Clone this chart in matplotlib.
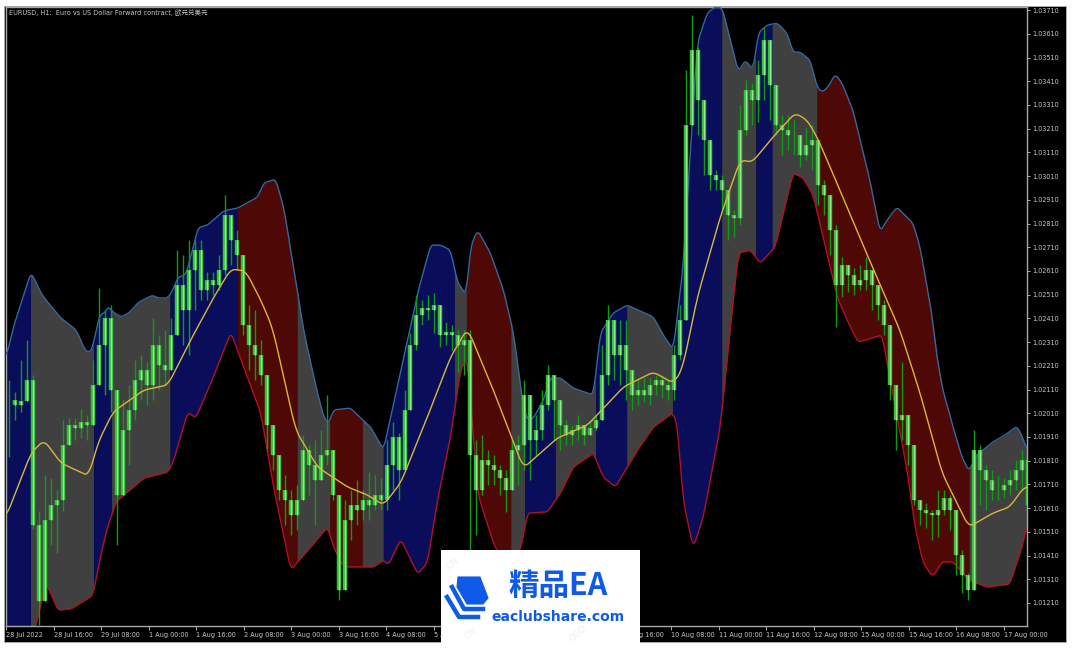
"""EURUSD H1 chart with a coloured band indicator, MT5 style."""
import matplotlib
matplotlib.use("Agg")
import matplotlib.pyplot as plt
from matplotlib.patches import Polygon, Rectangle
import numpy as np

plt.rcParams["font.family"] = ["DejaVu Sans", "Noto Sans CJK SC"]

POINT = 1e-5
BAR_STEP = 2.018  # candles below are read every ~2 bars

# band readings: hours since chart start, price in points
upper_h = [0.3, 2.4, 8.4, 11.8, 13.5, 18.5, 22.9, 24.2, 26.2, 27.9, 29.3, 30.3, 32, 33, 34.3, 36, 38.7, 41.4,
           44.7, 49.4, 51.1, 54.5, 56.2, 57.9, 60.5, 62.2, 64.6, 67.9, 73.3, 78, 84.8, 86.8, 90.8, 93.5, 95.9,
           98.2, 100.2, 102.6, 104.9, 107, 108.6, 110.3, 116, 119.4, 122.8, 127.1, 138.9, 143, 146.3, 149.7,
           152, 155, 156.4, 158.8, 163.1, 167.5, 170.9, 174.2, 175.6, 177.6, 181, 183.3, 186.7, 191, 197.8,
           200.1, 204.5, 209.2, 218, 221.3, 224.7, 228, 231.4, 232.8, 236.1, 238.8, 241.2, 243.9, 246.6, 248.9,
           251.6, 253.3, 256.3, 259.7, 263, 265, 267.4, 270.8, 273.1, 274.8, 276.8, 279.2, 281.5, 285.2, 287.6,
           290.9, 294.3, 296.7, 300, 302, 305.4, 307.8, 312.1, 312.8, 315.2, 318.9, 321.9, 324.2, 326.9, 332.3,
           336.4, 340.4, 342.4, 343.8]
upper_p = [102256, 102369, 102605, 102517, 102487, 102411, 102369, 102348, 102285, 102264, 102289, 102361, 102437,
           102424, 102462, 102437, 102416, 102433, 102479, 102508, 102496, 102496, 102530, 102584, 102593, 102669,
           102791, 102804, 102863, 102875, 102922, 102981, 102997, 102879, 102698, 102517, 102361, 102222, 102095,
           101994, 101965, 102024, 102032, 101990, 101952, 101855, 102530, 102719, 102719, 102698, 102563, 102508,
           102711, 102782, 102686, 102530, 102348, 102036, 101981, 101990, 102066, 102159, 102159, 102116, 102087,
           102348, 102433, 102466, 102416, 102340, 102277, 102626, 103301, 103571, 103697, 103723, 103718, 103584,
           103449, 103499, 103457, 103613, 103647, 103655, 103613, 103533, 103533, 103499, 103385, 103364, 103385,
           103440, 103402, 103288, 103162, 102993, 102774, 102825, 102879, 102854, 102812, 102711, 102403, 102306,
           102121, 101952, 101825, 101766, 101834, 101889, 101918, 101956, 101906, 101855]

lower_h = [0, 8.1, 10.1, 11.8, 13.5, 17.5, 21.9, 26.2, 29.3, 30.9, 33.6, 37, 46.4, 54.5, 56.2, 61.2, 63.9, 69, 75.7,
           85.8, 90.1, 95.9, 98.2, 102.6, 108.3, 110.3, 113.7, 123.8, 127.1, 128.8, 132.9, 138.6, 141.9, 145.3,
           149.7, 153, 155.4, 158.8, 164.1, 168.9, 173.2, 175.6, 182.3, 186.7, 191, 197.8, 201.1, 205.2, 212.6,
           218, 224.4, 226, 228, 231.4, 234.8, 240.5, 243.9, 246.6, 250.6, 254, 259, 265, 268.4, 271.8, 279.9,
           283.2, 286.9, 295, 303.4, 306.1, 308.8, 312.1, 315.2, 318.9, 324.2, 330.3, 338, 342.1, 343.8]
lower_p = [100900, 101050, 101117, 101210, 101294, 101180, 101185, 101218, 101244, 101349, 101505, 101636, 101737,
           101762, 101800, 102015, 101990, 102137, 102352, 102011, 101699, 101349, 101383, 101446, 101530, 101446,
           101362, 101362, 101391, 101370, 101480, 101332, 101379, 101644, 101910, 102192, 102247, 101674, 101463,
           101349, 101433, 101589, 101594, 101674, 101783, 101842, 101741, 101699, 101855, 101952, 102011, 101969,
           101644, 101442, 101572, 101952, 102369, 102686, 102698, 102643, 102711, 103023, 103002, 102930, 102500,
           102403, 102310, 102340, 101771, 101530, 101379, 101320, 101383, 101383, 101307, 101277, 101290, 101446,
           101539]

mid_h = [0, 8.4, 12.8, 18.5, 27.9, 30.9, 36, 46.4, 54.5, 62.2, 70, 75.7, 80.7, 85.8, 89.8, 97.5, 104.9, 115, 121.8,
         127.1, 132.9, 141.9, 149.7, 155.4, 164.1, 174.2, 185.7, 195.8, 207.9, 218, 224.7, 227.7, 232.8, 240.5,
         247.2, 251.3, 258.3, 265.7, 269.8, 273.1, 277.5, 289.3, 301, 307.8, 315.2, 324.2, 332.3, 338, 342.8]
mid_p = [101572, 101842, 101897, 101800, 101745, 101884, 102015, 102108, 102129, 102319, 102500, 102618, 102610,
         102487, 102369, 101939, 101783, 101699, 101665, 101623, 101716, 101994, 102247, 102369, 102108, 101779,
         101906, 101960, 102121, 102184, 102137, 102192, 102500, 102837, 103078, 103069, 103175, 103276, 103246,
         103175, 103048, 102698, 102361, 102095, 101758, 101530, 101589, 101615, 101699]

# where the band changes state
region_edges = [0, 8.1, 29.3, 35.3, 55.2, 77.7, 97.9, 109, 120, 127, 151, 155, 170, 174.6, 185, 198.5, 209, 224.4,
                241, 252.3, 258, 273, 324.2, 343.8]
region_state = ["up", "flat", "up", "flat", "up", "down", "flat", "down", "flat", "up", "flat", "down", "flat",
                "up", "flat", "up", "flat", "up", "flat", "up", "flat", "down", "flat"]

candle_high = [102150, 102100, 102235, 102320, 102170, 101600, 101750, 101737, 101685, 101980, 101990, 101990,
               102030, 102002, 102235, 102538, 102445, 102466, 102087, 102066, 102130, 102235, 102255, 102226,
               102411, 102340, 102360, 102411, 102698, 102677, 102740, 102740, 102740, 102605, 102605, 102677,
               102930, 102803, 102782, 102677, 102466, 102445, 102318, 102130, 101940, 101792, 101750, 101686,
               101707, 101918, 101876, 101897, 101940, 102087, 101855, 101657, 101644, 101686, 101728, 101686,
               101762, 101750, 101737, 101897, 101973, 101926, 102108, 102348, 102508, 102487, 102508, 102517,
               102445, 102394, 102382, 102361, 102361, 102361, 101897, 101918, 101855, 101834, 101792, 101770,
               101897, 101918, 102150, 101981, 102002, 102108, 102213, 102150, 102045, 101981, 101960, 102002,
               101960, 101981, 102002, 102297, 102466, 102297, 102403, 102403, 102171, 102150, 102158, 102158,
               102171, 102171, 102150, 102297, 102466, 103457, 103689, 103554, 103309, 103056, 103035, 103014,
               102888, 102867, 103309, 103415, 103402, 103499, 103638, 103457, 103330, 103267, 103267, 103246,
               103183, 103212, 103225, 103162, 102993, 102930, 102803, 102668, 102635, 102622, 102635, 102668,
               102614, 102550, 102487, 102361, 102087, 102226, 102002, 101855, 101644, 101631, 101602, 101686,
               101686, 101665, 101602, 101433, 101336, 101939, 101876, 101792, 101770, 101749, 101737, 101770,
               101813, 101855, 101707]
candle_low = [101825, 101980, 102015, 102065, 101520, 101117, 101307, 101455, 101420, 101600, 101890, 101897,
              101905, 101897, 101982, 102200, 102087, 102015, 101455, 101770, 101790, 101982, 102066, 102045,
              102066, 102108, 102130, 102234, 102340, 102297, 102255, 102445, 102487, 102487, 102508, 102530,
              102593, 102635, 102614, 102340, 102192, 102150, 102130, 101855, 101770, 101644, 101539, 101497,
              101518, 101686, 101665, 101539, 101728, 101792, 101644, 101222, 101391, 101475, 101539, 101560,
              101560, 101602, 101602, 101602, 101686, 101644, 101792, 102045, 102276, 102382, 102403, 102348,
              102289, 102297, 102276, 102184, 102171, 101433, 101496, 101665, 101707, 101707, 101665, 101593,
              101728, 101707, 101770, 101728, 101834, 101897, 102024, 101897, 101855, 101876, 101876, 101897,
              101876, 101918, 101939, 101981, 102129, 102150, 102129, 102066, 102024, 102045, 102057, 102045,
              102087, 102074, 102066, 102066, 102234, 102403, 103225, 103183, 103014, 102951, 102951, 102867,
              102740, 102753, 102803, 103183, 103225, 103238, 103330, 103246, 103183, 103098, 103120, 103098,
              103048, 103077, 103035, 102888, 102845, 102677, 102373, 102500, 102521, 102508, 102530, 102530,
              102445, 102403, 102340, 102066, 101855, 101897, 101792, 101623, 101539, 101526, 101475, 101488,
              101581, 101518, 101328, 101252, 101222, 101307, 101623, 101602, 101644, 101644, 101652, 101665,
              101686, 101686, 101488]
candle_close = [102065, 102045, 102060, 102150, 101540, 101220, 101560, 101625, 101645, 101875, 101960, 101947,
                101973, 101960, 102130, 102297, 102411, 102108, 101665, 101940, 102024, 102150, 102192, 102130,
                102297, 102213, 102192, 102340, 102550, 102445, 102614, 102698, 102530, 102572, 102550, 102614,
                102845, 102740, 102677, 102382, 102297, 102255, 102171, 101960, 101834, 101686, 101644, 101581,
                101644, 101855, 101792, 101728, 101834, 101855, 101665, 101265, 101560, 101623, 101602, 101644,
                101623, 101665, 101644, 101792, 101910, 101770, 102024, 102297, 102424, 102453, 102445, 102466,
                102340, 102352, 102340, 102297, 102318, 101834, 101686, 101813, 101792, 101770, 101737, 101686,
                101855, 101876, 102087, 101897, 101939, 102045, 102171, 102066, 101960, 101918, 101939, 101960,
                101918, 101948, 101981, 102171, 102403, 102255, 102297, 102192, 102087, 102108, 102087, 102129,
                102150, 102129, 102108, 102255, 102403, 103225, 103541, 103330, 103162, 103014, 102993, 102951,
                102845, 102833, 103204, 103373, 103330, 103436, 103583, 103394, 103225, 103204, 103183, 103183,
                103098, 103141, 103162, 102972, 102930, 102782, 102550, 102635, 102593, 102550, 102572, 102614,
                102550, 102466, 102382, 102129, 101981, 102002, 101876, 101644, 101602, 101589, 101581, 101602,
                101652, 101602, 101412, 101328, 101265, 101855, 101770, 101728, 101686, 101686, 101707, 101728,
                101770, 101813, 101623]

tick_hours = list(range(0, 340, 16))
tick_labels = ["28 Jul 2022", "28 Jul 16:00", "29 Jul 08:00", "1 Aug 00:00", "1 Aug 16:00", "2 Aug 08:00",
               "3 Aug 00:00", "3 Aug 16:00", "4 Aug 08:00", "5 Aug 00:00", "5 Aug 16:00", "8 Aug 08:00",
               "9 Aug 00:00", "9 Aug 16:00", "10 Aug 08:00", "11 Aug 00:00", "11 Aug 16:00", "12 Aug 08:00",
               "15 Aug 00:00", "15 Aug 16:00", "16 Aug 08:00", "17 Aug 00:00"]
price_ticks = [1.01210, 1.01310, 1.01410, 1.01510, 1.01610, 1.01710, 1.01810, 1.01910, 1.02010, 1.02110, 1.02210,
               1.02310, 1.02410, 1.02510, 1.02610, 1.02710, 1.02810, 1.02910, 1.03010, 1.03110, 1.03210, 1.03310,
               1.03410, 1.03510, 1.03610, 1.03710]

STATE_COLORS = {"up": "#0a0e5a", "flat": "#404040", "down": "#4e0806"}
W, H = 1080, 655
grid = np.arange(0, 344, 0.25)


def rounded(hours, points, span):
    """Take the corners off the read polyline; span is in grid steps."""
    y = np.interp(grid, hours, np.array(points) * POINT)
    kernel = np.ones(span) / span
    return np.convolve(np.pad(y, span, mode="edge"), kernel, mode="same")[span:-span]


fig = plt.figure(figsize=(W / 100, H / 100), dpi=100, facecolor="white")

# black terminal background
bg = fig.add_axes([0, 0, 1, 1], zorder=0)
bg.set_xlim(0, W)
bg.set_ylim(H, 0)
bg.axis("off")
bg.add_patch(Rectangle((4, 6), 1062, 636, fc="black", ec="#b0b0b0", lw=0.6))

ax = fig.add_axes([6 / W, 1 - 626 / H, 1021 / W, 619 / H], zorder=1)
ax.set_facecolor("black")
ax.set_xlim(0.34, 343.8)
ax.set_ylim(1.01113, 1.03723)

top = rounded(upper_h, upper_p, 7)
bot = rounded(lower_h, lower_p, 7)
mid = rounded(mid_h, mid_p, 13)

# band fill, one colour per state
for start, end, state in zip(region_edges[:-1], region_edges[1:], region_state):
    mask = (grid >= start) & (grid <= end + 0.25)
    ax.fill_between(grid[mask], bot[mask], top[mask], color=STATE_COLORS[state], lw=0)

ax.plot(grid, top, color="#34689f", lw=1.0, zorder=3)
ax.plot(grid, bot, color="#b01222", lw=1.0, zorder=3)

# candles
high = np.array(candle_high) * POINT
low = np.array(candle_low) * POINT
close = np.array(candle_close) * POINT
open_ = np.r_[close[0], close[:-1]]
hours = 1.0 + BAR_STEP * np.arange(len(close))
ax.vlines(hours, low, high, color="#119a14", lw=1.0, zorder=4)
ax.vlines(hours, np.minimum(open_, close), np.maximum(open_, close), color="#38c03c", lw=3.2, zorder=5)
ax.vlines(hours, np.minimum(open_, close), np.maximum(open_, close), color="#94ea8c", lw=0.9, zorder=6)

ax.plot(grid, mid, color="#d8b83c", lw=1.0, zorder=7)

ax.yaxis.tick_right()
ax.set_yticks(price_ticks)
ax.set_yticklabels([f"{p:.5f}" for p in price_ticks])
ax.set_xticks(tick_hours)
ax.set_xticklabels(tick_labels, ha="left")
ax.tick_params(axis="y", colors="#c8c8c8", labelsize=4.7, length=2.5, width=0.6, pad=1.5)
ax.tick_params(axis="x", colors="#c8c8c8", labelsize=4.7, length=3, width=0.6, pad=1.5)
for side in ax.spines.values():
    side.set_color("#a8a8a8")
    side.set_linewidth(1.0)

# chart caption and the site logo go on top, in pixel coordinates
top_ax = fig.add_axes([0, 0, 1, 1], zorder=2)
top_ax.set_xlim(0, W)
top_ax.set_ylim(H, 0)
top_ax.axis("off")
top_ax.patch.set_alpha(0)
top_ax.text(9, 13, "EURUSD, H1:  Euro vs US Dollar Forward contract, 欧元兑美元", color="#c8c8c8", fontsize=4.7,
            va="center", ha="left")

BLUE = "#0f5be8"
top_ax.add_patch(Rectangle((441, 550), 199, 105, fc="white", ec="none"))
for x, y, txt in [(452, 564, ".CN"), (470, 634, ".CN"), (578, 634, "OGO")]:
    top_ax.text(x, y, txt, color="#f0f0f0", fontsize=6, rotation=42, ha="center", va="center")

top_ax.add_patch(Polygon([(458, 577), (480, 577), (488, 598), (483, 604), (467, 604), (457, 587)], closed=True,
                         fc=BLUE, ec=BLUE, lw=0.8, joinstyle="round"))
top_ax.plot([452, 464, 483], [587, 609, 609], color=BLUE, lw=3.2, solid_joinstyle="round")
top_ax.plot([447, 459, 478], [597, 617, 617], color=BLUE, lw=3.2, solid_joinstyle="round")
top_ax.text(508, 586, "精品EA", color=BLUE, fontsize=22, fontweight="bold", family=["Noto Sans CJK SC", "DejaVu Sans"],
            va="center", ha="left")
top_ax.text(558, 617, "eaclubshare.com", color=BLUE, fontsize=10, fontweight="bold", family="DejaVu Sans",
            va="center", ha="center")

fig.savefig("out.png", dpi=100, facecolor="white")
plt.close(fig)
